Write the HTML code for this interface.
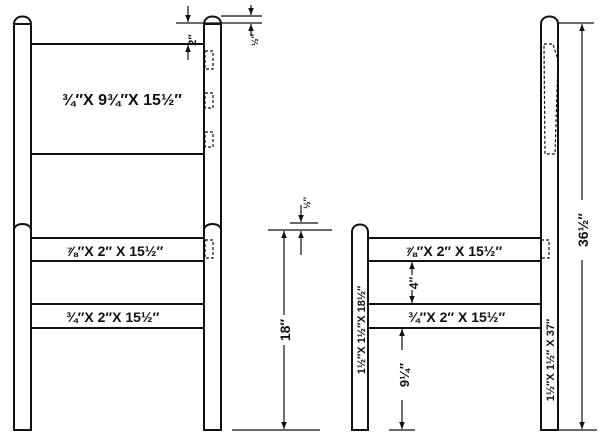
<!DOCTYPE html>
<html><head><meta charset="utf-8"><style>
html,body{margin:0;padding:0;background:#fff;}
svg{display:block;}
text{font-family:"Liberation Sans",sans-serif;font-weight:bold;fill:#111;}
</style></head><body>
<svg width="600" height="444" viewBox="0 0 600 444" xmlns="http://www.w3.org/2000/svg">
<defs>
<marker id="a" viewBox="0 0 10 10" refX="10" refY="5" markerWidth="6" markerHeight="6" orient="auto-start-reverse"><path d="M0,1 L10,5 L0,9 z" fill="#111"/></marker>
</defs>
<g stroke="#111" stroke-width="2" fill="none">
<!-- LEFT VIEW -->
<path d="M14,430 V24 C14,14 31,14 31,24 V430 Z" fill="#fff"/>
<path d="M14,24 H31"/>
<path d="M14,230 C14,222 31,222 31,230"/>
<path d="M204,430 V24 C204,14 221,14 221,24 V430 Z" fill="#fff"/>
<path d="M204,24 H221"/>
<path d="M204,230 C204,222 221,222 221,230"/>
<path d="M31,44 H204 M31,154 H204"/>
<path d="M31,238 H204 M31,261 H204"/>
<path d="M31,304 H204 M31,328 H204"/>
<g stroke-width="1.2" stroke-dasharray="3,2">
<rect x="205" y="51" width="8" height="18"/>
<rect x="205" y="93" width="8" height="15"/>
<rect x="205" y="132" width="8" height="15"/>
<rect x="205" y="240" width="8" height="18"/>
</g>
<g stroke-width="1.2">
<path d="M176,23 H262 M221,16 H262"/>
<path d="M188,6 V22" marker-end="url(#a)"/>
<path d="M188,60 V45" marker-end="url(#a)"/>
<path d="M251,5 V15" marker-end="url(#a)"/>
<path d="M251,36 V24" marker-end="url(#a)"/>
<path d="M268,230 H332 M232,430 H320 M290,223 H318"/>
<path d="M284,315 V231" marker-end="url(#a)"/>
<path d="M284,345 V429" marker-end="url(#a)"/>
<path d="M301,205 V222" marker-end="url(#a)"/>
<path d="M301,255 V231" marker-end="url(#a)"/>
<path d="M558,23 H594 M558,430 H597"/>
<path d="M582,200 V24" marker-end="url(#a)"/>
<path d="M582,260 V429" marker-end="url(#a)"/>
<path d="M412,275 V262" marker-end="url(#a)"/>
<path d="M412,290 V303" marker-end="url(#a)"/>
<path d="M402,350 V329" marker-end="url(#a)"/>
<path d="M402,400 V429" marker-end="url(#a)"/>
<path d="M389,430 H415"/>
</g>
<!-- RIGHT VIEW -->
<path d="M352,430 V232 C352,222 368,222 368,232 V430 Z" fill="#fff"/>
<path d="M541,430 V24 C541,14 558,14 558,24 V430 Z" fill="#fff"/>
<path d="M368,238 H541 M368,261 H541"/>
<path d="M368,304 H541 M368,328 H541"/>
<g stroke-width="1.2" stroke-dasharray="3,2">
<path d="M544,44 L553,44 L558,60 L555,154 L545,154 Z"/>
<rect x="541" y="240" width="8" height="18"/>
</g>
</g>
<text x="62" y="105" font-size="16">¾″X 9¾″X 15½″</text>
<text x="66" y="256" font-size="14">⅞″X 2″ X 15½″</text>
<text x="66" y="322" font-size="14">¾″X 2″X 15½″</text>
<text x="405" y="256" font-size="14">⅞″X  2″ X 15½″</text>
<text x="408" y="322" font-size="14">¾″X  2″ X 15½″</text>
<text transform="translate(196,40) rotate(-90)" font-size="11" text-anchor="middle">2″</text>
<text transform="translate(258,40) rotate(-90)" font-size="9" text-anchor="middle">½″</text>
<text transform="translate(310,203) rotate(-90)" font-size="9" text-anchor="middle">½″</text>
<text transform="translate(290,330) rotate(-90)" font-size="14" text-anchor="middle">18″</text>
<text transform="translate(418,283) rotate(-90)" font-size="12" text-anchor="middle">4″</text>
<text transform="translate(409,375) rotate(-90)" font-size="13" text-anchor="middle">9¼″</text>
<text transform="translate(588,230) rotate(-90)" font-size="14" text-anchor="middle">36½″</text>
<text transform="translate(365,330) rotate(-90)" font-size="11" text-anchor="middle">1½″X 1½″X 18½″</text>
<text transform="translate(554,360) rotate(-90)" font-size="11" text-anchor="middle">1½″X 1½″ X 37″</text>
</svg>
</body></html>
